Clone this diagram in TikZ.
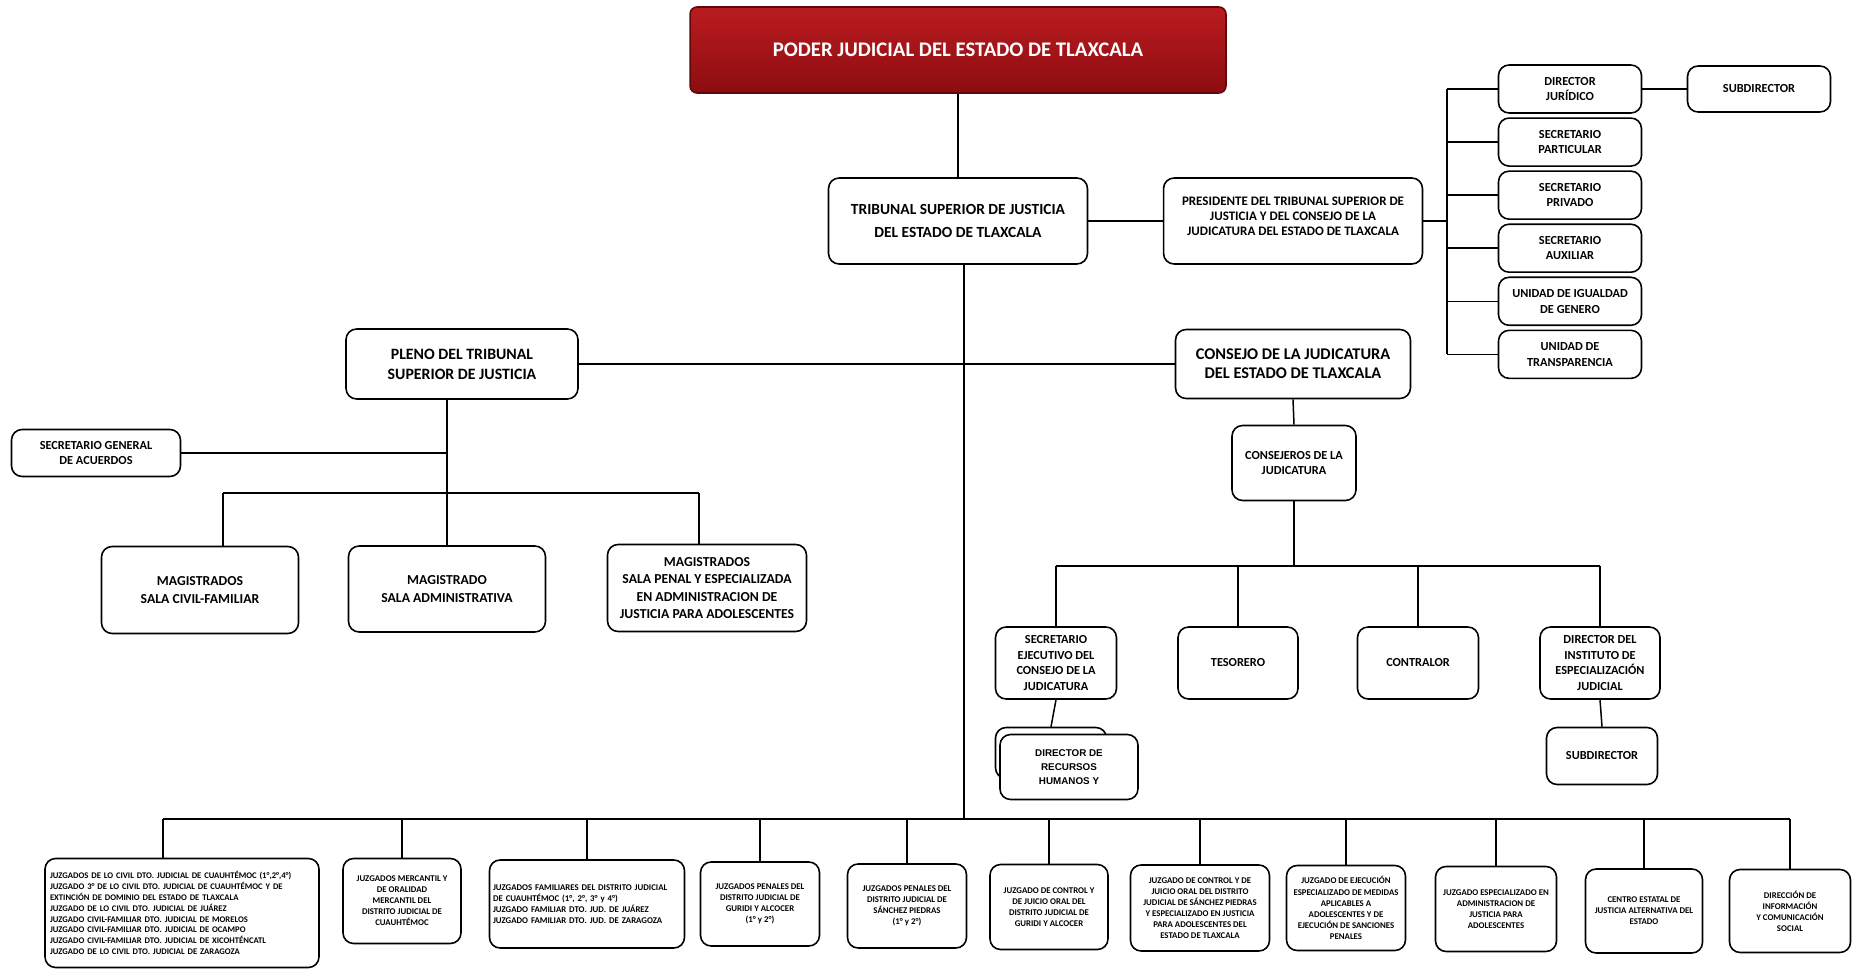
\documentclass[tikz,border=0pt]{standalone}
\usepackage{fontspec}
\setmainfont{Carlito}
\newfontfamily\arialfont{Liberation Sans}
\usetikzlibrary{positioning, calc}
\definecolor{tlxredtop}{RGB}{186,28,32}
\definecolor{tlxredbot}{RGB}{140,12,16}
\definecolor{tlxedge}{RGB}{95,8,10}

\begin{document}
\begin{tikzpicture}[x=0.02cm, y=-0.02cm,
    orgbox/.style={draw, line width=0.9pt, rounded corners=6pt, fill=white, align=center, inner sep=1pt, font=\bfseries\fontsize{8.8}{13.5}\selectfont},
    titlebox/.style={draw=tlxedge, line width=0.9pt, rounded corners=4pt, top color=tlxredtop, bottom color=tlxredbot, text=white, font=\bfseries\fontsize{11.8}{14}\selectfont},
    staffbox/.style={orgbox, font=\bfseries\fontsize{7}{8.8}\selectfont},
    magbox/.style={orgbox, font=\bfseries\fontsize{7.8}{10}\selectfont},
    juzbox/.style={orgbox, font=\bfseries\fontsize{5}{6.3}\selectfont},
    link/.style={line width=0.85pt}
]
\useasboundingbox (0,0) rectangle (1866,969);

% Title
\node[titlebox, minimum width=10.72cm, minimum height=1.72cm] (poder) at (958,50) {PODER JUDICIAL DEL ESTADO DE TLAXCALA};

% Tribunal + Presidente
\node[orgbox, minimum width=5.18cm, minimum height=1.72cm] (tsj) at (958,221) {TRIBUNAL SUPERIOR DE JUSTICIA\\DEL ESTADO DE TLAXCALA};
\node[orgbox, font=\bfseries\fontsize{7.4}{8.6}\selectfont, minimum width=5.18cm, minimum height=1.72cm] (pres) at (1293,221) {PRESIDENTE DEL TRIBUNAL SUPERIOR DE\\JUSTICIA Y DEL CONSEJO DE LA\\JUDICATURA DEL ESTADO DE TLAXCALA\\[-3.2pt]};
\draw[link] (poder.south) -- (tsj.north);
\draw[link] (tsj.east) -- (pres.west);

% Staff of the president (right column)
\node[staffbox, minimum width=2.86cm, minimum height=0.96cm] (dirjur) at (1570,89) {DIRECTOR\\JURÍDICO};
\node[staffbox, minimum width=2.86cm, minimum height=0.96cm, below=0.07cm of dirjur] (secpart) {SECRETARIO\\PARTICULAR};
\node[staffbox, minimum width=2.86cm, minimum height=0.96cm, below=0.07cm of secpart] (secpriv) {SECRETARIO\\PRIVADO};
\node[staffbox, minimum width=2.86cm, minimum height=0.96cm, below=0.07cm of secpriv] (secaux) {SECRETARIO\\AUXILIAR};
\node[staffbox, minimum width=2.86cm, minimum height=0.96cm, below=0.07cm of secaux] (uniig) {UNIDAD DE IGUALDAD\\DE GENERO};
\node[staffbox, minimum width=2.86cm, minimum height=0.96cm, below=0.07cm of uniig] (unitra) {UNIDAD DE\\TRANSPARENCIA};
\node[staffbox, minimum width=2.86cm, minimum height=0.92cm] (subdir) at (1759,89) {SUBDIRECTOR};

% Bracket to the right column
\coordinate (brk) at (1447,221);
\draw[link] (pres.east) -- (brk);
\draw[link] (brk |- dirjur) -- (brk |- unitra);
\foreach \n in {dirjur, secpart, secpriv, secaux, uniig, unitra}
    \draw[link] (brk |- \n) -- (\n.west);
\draw[link] (dirjur.east) -- (subdir.west);

% Pleno and Consejo
\node[orgbox, font=\bfseries\fontsize{9}{11.4}\selectfont, minimum width=4.64cm, minimum height=1.40cm] (pleno) at (462,364) {PLENO DEL TRIBUNAL\\SUPERIOR DE JUSTICIA};
\node[orgbox, font=\bfseries\fontsize{9.3}{10.8}\selectfont, minimum width=4.70cm, minimum height=1.38cm] (cjt) at (1293,364) {CONSEJO DE LA JUDICATURA\\DEL ESTADO DE TLAXCALA};
\draw[link] (pleno.east) -- (cjt.west);

% Main trunk down to the juzgados
\coordinate (busL) at (163,819);
\draw[link] ([xshift=0.12cm]tsj.south) -- ([xshift=0.12cm]tsj.south |- busL);

% Pleno branch
\node[staffbox, minimum width=3.38cm, minimum height=0.94cm] (sga) at (96,453) {SECRETARIO GENERAL\\DE ACUERDOS};
\node[magbox, minimum width=3.94cm, minimum height=1.74cm] (mciv) at (200,590) {MAGISTRADOS\\SALA CIVIL-FAMILIAR};
\node[magbox, minimum width=3.94cm, minimum height=1.72cm] (madm) at (447,589) {MAGISTRADO\\SALA ADMINISTRATIVA};
\node[magbox, minimum width=3.98cm, minimum height=1.74cm] (mpen) at (707,588) {MAGISTRADOS\\SALA PENAL Y ESPECIALIZADA\\EN ADMINISTRACION DE\\JUSTICIA PARA ADOLESCENTES};
\draw[link] (madm.north |- pleno.south) -- (madm.north);
\draw[link] (sga.east) -- (sga.east -| madm.north);
\coordinate (mb1) at (223,493);
\coordinate (mb3) at (699,493);
\draw[link] (mb1) -- (mb3);
\draw[link] (mb1) -- (mb1 |- mciv.north);
\draw[link] (mb3) -- (mb3 |- mpen.north);

% Consejo branch
\node[staffbox, minimum width=2.48cm, minimum height=1.50cm] (cjros) at (1294,463) {CONSEJEROS DE LA\\JUDICATURA};
\draw[link] (cjt.south) -- (cjros.north);
\coordinate (cbus) at (1294,566);
\draw[link] (cjros.south) -- (cbus);
\node[staffbox, minimum width=2.42cm, minimum height=1.44cm] (secej) at (1056,663) {SECRETARIO\\EJECUTIVO DEL\\CONSEJO DE LA\\JUDICATURA};
\node[staffbox, minimum width=2.40cm, minimum height=1.44cm] (tes) at (1238,663) {TESORERO};
\node[staffbox, minimum width=2.42cm, minimum height=1.44cm] (contr) at (1418,663) {CONTRALOR};
\node[staffbox, minimum width=2.40cm, minimum height=1.44cm] (dirinst) at (1600,663) {DIRECTOR DEL\\INSTITUTO DE\\ESPECIALIZACIÓN\\JUDICIAL};
\draw[link] (secej.north |- cbus) -- (dirinst.north |- cbus);
\foreach \n in {secej, tes, contr, dirinst}
    \draw[link] (\n.north |- cbus) -- (\n.north);

% Under the secretario ejecutivo and the instituto
\node[orgbox, minimum width=2.22cm, minimum height=1.02cm] (rhback) at (1051,753) {};
\node[orgbox, font=\arialfont\bfseries\fontsize{5.6}{8.1}\selectfont, minimum width=2.76cm, minimum height=1.30cm] (rhfront) at (1069,767) {DIRECTOR DE\\RECURSOS\\HUMANOS Y};
\draw[link] (secej.south) -- (rhback.north);
\node[staffbox, minimum width=2.22cm, minimum height=1.14cm] (sub2) at (1602,756) {SUBDIRECTOR};
\draw[link] (dirinst.south) -- (sub2.north);

% Juzgados (bottom row)
\node[juzbox, align=left, text width=5.28cm, font=\bfseries\fontsize{4.9}{6.2}\selectfont, minimum width=5.48cm, minimum height=2.18cm] (j1) at (182,913) {JUZGADOS DE LO CIVIL DTO. JUDICIAL DE CUAUHTÉMOC (1°,2°,4°)\\JUZGADO 3° DE LO CIVIL DTO. JUDICIAL DE CUAUHTÉMOC Y DE\\EXTINCIÓN DE DOMINIO DEL ESTADO DE TLAXCALA\\JUZGADO DE LO CIVIL DTO. JUDICIAL DE JUÁREZ\\JUZGADO CIVIL-FAMILIAR DTO. JUDICIAL DE MORELOS\\JUZGADO CIVIL-FAMILIAR DTO. JUDICIAL DE OCAMPO\\JUZGADO CIVIL-FAMILIAR DTO. JUDICIAL DE XICOHTÉNCATL\\JUZGADO DE LO CIVIL DTO. JUDICIAL DE ZARAGOZA};
\node[juzbox, minimum width=2.36cm, minimum height=1.70cm] (j2) at (402,901) {JUZGADOS MERCANTIL Y\\DE ORALIDAD\\MERCANTIL DEL\\DISTRITO JUDICIAL DE\\CUAUHTÉMOC};
\node[juzbox, align=left, text width=3.76cm, minimum width=3.90cm, minimum height=1.76cm] (j3) at (587,904) {JUZGADOS FAMILIARES DEL DISTRITO JUDICIAL\\DE CUAUHTÉMOC (1°, 2°, 3° y 4°)\\JUZGADO FAMILIAR DTO. JUD. DE JUÁREZ\\JUZGADO FAMILIAR DTO. JUD. DE ZARAGOZA};
\node[juzbox, minimum width=2.38cm, minimum height=1.68cm] (j4) at (760,904) {JUZGADOS PENALES DEL\\DISTRITO JUDICIAL DE\\GURIDI Y ALCOCER\\(1° y 2°)};
\node[juzbox, minimum width=2.38cm, minimum height=1.68cm] (j5) at (907,906) {JUZGADOS PENALES DEL\\DISTRITO JUDICIAL DE\\SÁNCHEZ PIEDRAS\\(1° y 2°)};
\node[juzbox, minimum width=2.36cm, minimum height=1.70cm] (j6) at (1049,907) {JUZGADO DE CONTROL Y\\DE JUICIO ORAL DEL\\DISTRITO JUDICIAL DE\\GURIDI Y ALCOCER};
\node[juzbox, minimum width=2.78cm, minimum height=1.72cm] (j7) at (1200,908) {JUZGADO DE CONTROL Y DE\\JUICIO ORAL DEL DISTRITO\\JUDICIAL DE SÁNCHEZ PIEDRAS\\Y ESPECIALIZADO EN JUSTICIA\\PARA ADOLESCENTES DEL\\ESTADO DE TLAXCALA};
\node[juzbox, minimum width=2.38cm, minimum height=1.70cm] (j8) at (1346,908) {JUZGADO DE EJECUCIÓN\\ESPECIALIZADO DE MEDIDAS\\APLICABLES A\\ADOLESCENTES Y DE\\EJECUCIÓN DE SANCIONES\\PENALES};
\node[juzbox, minimum width=2.42cm, minimum height=1.70cm] (j9) at (1496,909) {JUZGADO ESPECIALIZADO EN\\ADMINISTRACION DE\\JUSTICIA PARA\\ADOLESCENTES};
\node[juzbox, minimum width=2.34cm, minimum height=1.68cm] (j10) at (1644,911) {CENTRO ESTATAL DE\\JUSTICIA ALTERNATIVA DEL\\ESTADO};
\node[juzbox, minimum width=2.42cm, minimum height=1.66cm] (j11) at (1790,911) {DIRECCIÓN DE\\INFORMACIÓN\\Y COMUNICACIÓN\\SOCIAL};

% Bottom bus
\draw[link] (busL) -- (j11.north |- busL);
\draw[link] (busL) -- (busL |- j1.north);
\foreach \i in {2,...,11}
    \draw[link] (j\i.north |- busL) -- (j\i.north);

\end{tikzpicture}
\end{document}
